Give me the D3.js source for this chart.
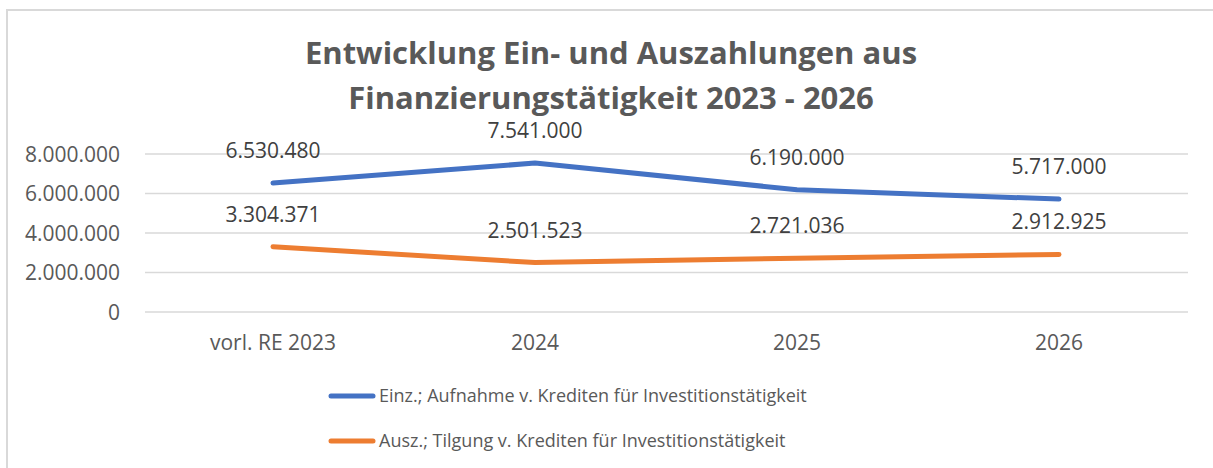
<!DOCTYPE html>
<html>
<head>
<meta charset="utf-8">
<script src="https://cdn.jsdelivr.net/npm/d3@7"></script>
<style>
  body { margin: 0; background: #fff; }
  svg text { font-family: "Open Sans", sans-serif; }
</style>
</head>
<body>
<div id="chart"></div>
<script>
// Daten
const kategorien = ["vorl. RE 2023", "2024", "2025", "2026"];
const einzahlungen = [6530480, 7541000, 6190000, 5717000];
const auszahlungen = [3304371, 2501523, 2721036, 2912925];
const yTicks = [0, 2000000, 4000000, 6000000, 8000000];
const serienNamen = [
    "Einz.; Aufnahme v. Krediten für Investitionstätigkeit",
    "Ausz.; Tilgung v. Krediten für Investitionstätigkeit"
];
const titelZeilen = ["Entwicklung Ein- und Auszahlungen aus", "Finanzierungstätigkeit 2023 - 2026"];

const farben = ["#4472C4", "#ED7D31"];
const W = 1213, H = 468;

const svg = d3.select("#chart").append("svg")
    .attr("width", W)
    .attr("height", H);

// Rahmen
svg.append("rect")
    .attr("x", 7).attr("y", 10)
    .attr("width", W + 20).attr("height", H + 20)
    .attr("fill", "#fff")
    .attr("stroke", "#d9d9d9")
    .attr("stroke-width", 2);

// Skalen
const x = d3.scaleBand()
    .domain(kategorien)
    .range([142, 1190]);

const y = d3.scaleLinear()
    .domain([0, 8000000])
    .range([312, 154]);

// Zahlenformat deutsch
const fmt = d3.formatLocale({ decimal: ",", thousands: ".", grouping: [3], currency: ["", " €"] }).format(",.0f");

// Gitterlinien
svg.append("g")
    .selectAll("line")
    .data(yTicks)
    .join("line")
    .attr("x1", 145).attr("x2", 1188)
    .attr("y1", d => y(d)).attr("y2", d => y(d))
    .attr("stroke", "#d9d9d9")
    .attr("stroke-width", 1.5);

// Y-Achse
const yAxis = svg.append("g")
    .attr("transform", "translate(120,0)")
    .call(d3.axisLeft(y).tickValues(yTicks).tickSize(0).tickPadding(0).tickFormat(fmt));
yAxis.select(".domain").remove();
yAxis.selectAll("text")
    .attr("font-family", "Open Sans")
    .style("font-size", "21px")
    .attr("fill", "#595959")
    .attr("dy", "0.35em");

// X-Achse
const xAxis = svg.append("g")
    .attr("transform", "translate(0,335)")
    .call(d3.axisBottom(x).tickSize(0).tickPadding(0));
xAxis.select(".domain").remove();
xAxis.selectAll("text")
    .attr("font-family", "Open Sans")
    .style("font-size", "21px")
    .attr("fill", "#595959")
    .attr("dy", "0.71em");

// Linien
const serien = [einzahlungen, auszahlungen];
const linie = d3.line()
    .x((d, i) => x(kategorien[i]) + x.bandwidth() / 2)
    .y(d => y(d));

serien.forEach((werte, s) => {
    svg.append("path")
        .datum(werte)
        .attr("d", linie)
        .attr("fill", "none")
        .attr("stroke", farben[s])
        .attr("stroke-width", 5)
        .attr("stroke-linecap", "round")
        .attr("stroke-linejoin", "round");

    svg.append("g")
        .selectAll("text")
        .data(werte)
        .join("text")
        .attr("x", (d, i) => x(kategorien[i]) + x.bandwidth() / 2)
        .attr("y", d => y(d) - 25)
        .attr("text-anchor", "middle")
        .style("font-size", "21px")
        .attr("fill", "#404040")
        .text(d => fmt(d));
});

// Titel
svg.append("g")
    .selectAll("text")
    .data(titelZeilen)
    .join("text")
    .attr("x", 611)
    .attr("y", (d, i) => 64 + i * 45)
    .attr("text-anchor", "middle")
    .style("font-size", "31px")
    .style("font-weight", "bold")
    .attr("fill", "#595959")
    .text(d => d);

// Legende
const legende = svg.append("g")
    .selectAll("g")
    .data(serienNamen)
    .join("g")
    .attr("transform", (d, i) => `translate(329,${396 + i * 45})`);

legende.append("line")
    .attr("x1", 2).attr("x2", 44)
    .attr("stroke", (d, i) => farben[i])
    .attr("stroke-width", 5)
    .attr("stroke-linecap", "round");

legende.append("text")
    .attr("x", 50)
    .attr("dy", "0.35em")
    .style("font-size", "18px")
    .attr("fill", "#595959")
    .text(d => d);
</script>
</body>
</html>
